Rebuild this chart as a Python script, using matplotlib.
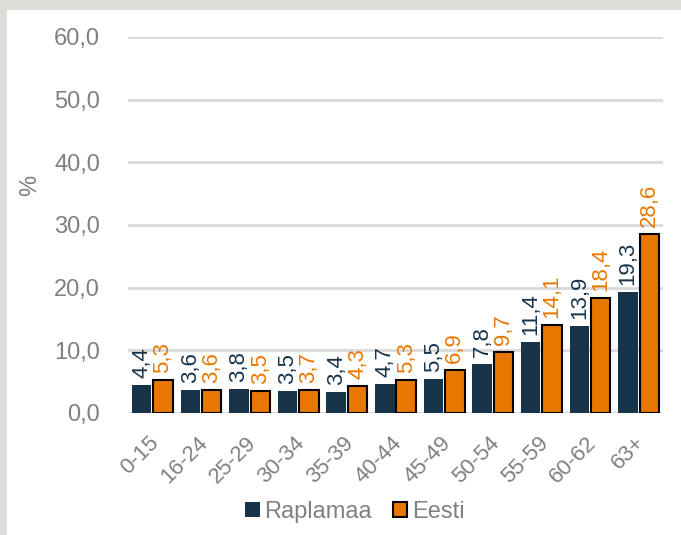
import numpy as np
import matplotlib
matplotlib.use('Agg')
import matplotlib.pyplot as plt
import matplotlib.transforms as mtransforms
from matplotlib.patches import Rectangle

plt.rcParams['font.family'] = ['Liberation Sans', 'DejaVu Sans']

# Andmed
vanused = ['0-15', '16-24', '25-29', '30-34', '35-39', '40-44', '45-49',
           '50-54', '55-59', '60-62', '63+']
raplamaa = [4.4, 3.6, 3.8, 3.5, 3.4, 4.7, 5.5, 7.8, 11.4, 13.9, 19.3]
eesti = [5.3, 3.6, 3.5, 3.7, 4.3, 5.3, 6.9, 9.7, 14.1, 18.4, 28.6]
y_ticks = [0, 10, 20, 30, 40, 50, 60]

navy = '#17344A'
orange = '#E87700'
grey_text = '#808080'

fig = plt.figure(figsize=(6.81, 5.35), dpi=100, facecolor='#DEDED9')
# valge taust, hall serv ülal ja vasakul
fig.add_artist(Rectangle((7/681, 0), 1, 1 - 10/535, transform=fig.transFigure,
                         facecolor='white', edgecolor='none', zorder=-5))

ax = fig.add_axes([128/681, 1 - 413/535, 535/681, 376/535])
ax.set_zorder(2)
ax.set_facecolor('none')

x = np.arange(len(vanused))
w = 0.4
off = 0.22
b1 = ax.bar(x - off, raplamaa, w, color=navy, label='Raplamaa', zorder=3)
b2 = ax.bar(x + off, eesti, w, color=orange, edgecolor='black', linewidth=1.5,
            label='Eesti', zorder=3)

# Väärtused tulpade kohale
for xi, v in zip(x, raplamaa):
    ax.annotate(f'{v:.1f}'.replace('.', ','), (xi - off, v), xytext=(0, 5),
                textcoords='offset points', rotation=90, ha='center', va='bottom',
                color=navy, fontsize=16)
for xi, v in zip(x, eesti):
    ax.annotate(f'{v:.1f}'.replace('.', ','), (xi + off, v), xytext=(0, 5),
                textcoords='offset points', rotation=90, ha='center', va='bottom',
                color=orange, fontsize=16)

ax.set_xlim(-0.5, len(vanused) - 0.5)
ax.set_ylim(0, 60)
ax.set_yticks(y_ticks)
ax.set_yticklabels([f'{t:.1f}'.replace('.', ',') for t in y_ticks])
ax.set_xticks(x)
ax.set_xticklabels(vanused, rotation=45, ha='right', rotation_mode='anchor')
ax.tick_params(axis='y', length=0, pad=20, labelsize=17, labelcolor=grey_text)
ax.tick_params(axis='x', length=0, pad=14, labelsize=16, labelcolor=grey_text)
# sildid veidi vasakule
shift = mtransforms.ScaledTranslation(-4/100, 0, fig.dpi_scale_trans)
for lbl in ax.get_xticklabels():
    lbl.set_transform(lbl.get_transform() + shift)
ax.grid(axis='y', color='#D9D9D9', linewidth=2, zorder=0)
for s in ax.spines.values():
    s.set_visible(False)

fig.text(30/681, 1 - 185/535, '%', rotation=90, ha='center', va='center',
         fontsize=17, color=grey_text)

leg = fig.legend(handles=[b1, b2], loc='center', bbox_to_anchor=(355/681, 1 - 512/535),
                 ncol=2, frameon=False, fontsize=17, labelcolor=grey_text,
                 handlelength=0.6, handleheight=0.6, handletextpad=0.2, columnspacing=0.9)

fig.savefig('out.png', dpi=100, facecolor=fig.get_facecolor())
